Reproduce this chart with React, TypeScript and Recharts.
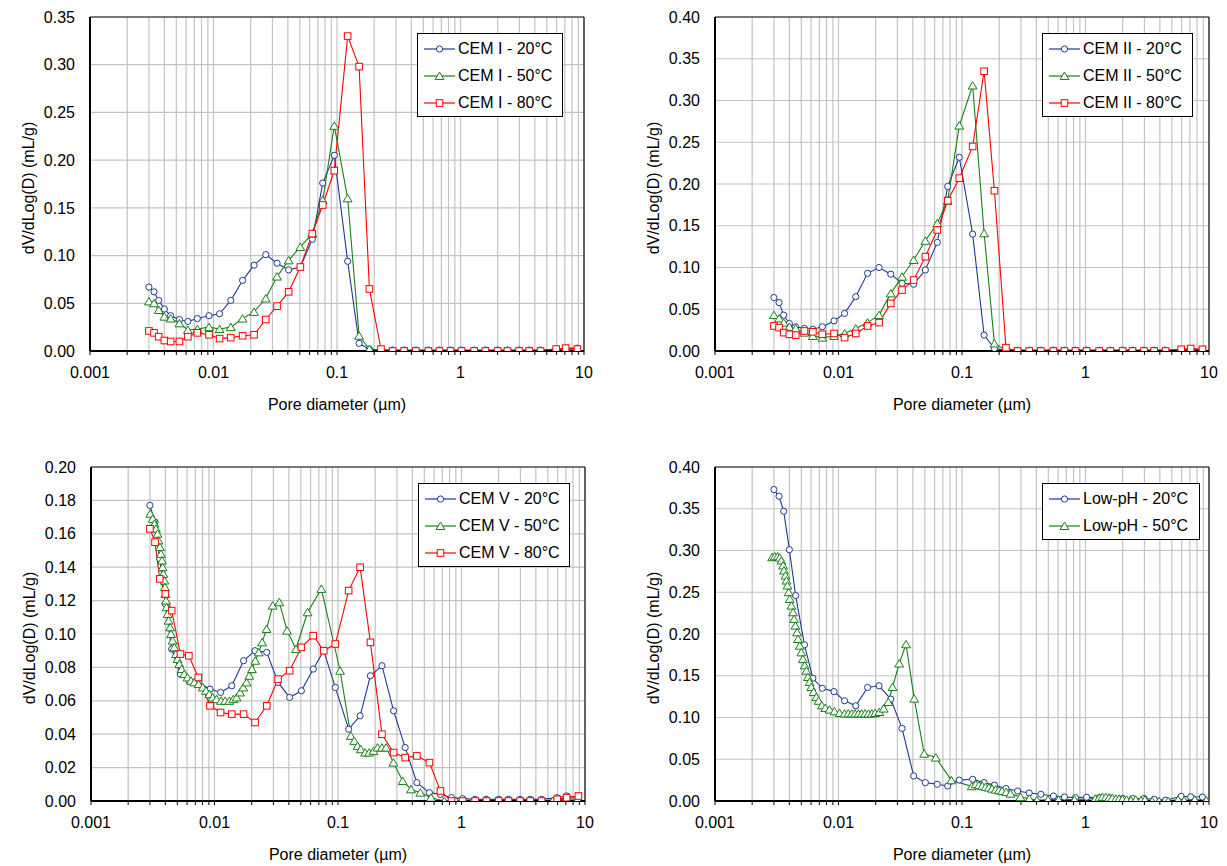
import React from 'react';
import { LineChart, Line, XAxis, YAxis, CartesianGrid, ReferenceLine } from 'recharts';

const FONT = '"Liberation Sans", Arial, Helvetica, sans-serif';
const BLUE = '#1F3A8F';
const GREEN = '#178017';
const RED = '#FF0000';

// ---------- axes ----------
const X_TICKS = [
  0.001, 0.002, 0.003, 0.004, 0.005, 0.006, 0.007, 0.008, 0.009,
  0.01, 0.02, 0.03, 0.04, 0.05, 0.06, 0.07, 0.08, 0.09,
  0.1, 0.2, 0.3, 0.4, 0.5, 0.6, 0.7, 0.8, 0.9,
  1, 2, 3, 4, 5, 6, 7, 8, 9, 10,
];
const X_MAJOR = [0.001, 0.01, 0.1, 1, 10];
const X_MAJOR_LABELS = ['0.001', '0.01', '0.1', '1', '10'];
const Y_TICKS_035 = [0, 0.05, 0.1, 0.15, 0.2, 0.25, 0.3, 0.35];
const Y_TICKS_040 = [0, 0.05, 0.1, 0.15, 0.2, 0.25, 0.3, 0.35, 0.4];
const Y_TICKS_020 = [0, 0.02, 0.04, 0.06, 0.08, 0.1, 0.12, 0.14, 0.16, 0.18, 0.2];

const X_TITLE = 'Pore diameter (µm)';
const Y_TITLE = 'dV/dLog(D) (mL/g)';

// ---------- common pore diameters (µm) ----------
const D_COMMON = [
  0.0030, 0.0033, 0.0036, 0.0040, 0.0045, 0.0053, 0.0062, 0.0074, 0.0092, 0.0112,
  0.0138, 0.0172, 0.0213, 0.0265, 0.0327, 0.0406, 0.0505, 0.0631, 0.0766, 0.0951,
  0.122, 0.151, 0.183, 0.227, 0.282, 0.350, 0.435, 0.550, 0.675, 0.830,
  1.02, 1.29, 1.59, 2.00, 2.40, 2.98, 3.60, 4.45, 5.95, 7.10, 8.85,
];

// ---------- CEM I ----------
const CEM1_20 = [
  0.067, 0.062, 0.053, 0.044, 0.037, 0.033, 0.031, 0.034, 0.037, 0.039,
  0.053, 0.074, 0.090, 0.101, 0.092, 0.085, 0.088, 0.117, 0.176, 0.205,
  0.094, 0.008, 0.002, 0.001, 0.001, 0.001, 0.001, 0.001, 0.001, 0.001,
  0.001, 0.001, 0.001, 0.001, 0.001, 0.001, 0.001, 0.001, 0.002, 0.003, 0.003,
];
const CEM1_50 = [
  0.052, 0.050, 0.043, 0.036, 0.034, 0.029, 0.022, 0.023, 0.025, 0.023,
  0.025, 0.034, 0.041, 0.055, 0.078, 0.095, 0.109, 0.123, 0.158, 0.236,
  0.160, 0.016, 0.002, 0.000, 0.000, 0.000, 0.000, 0.000, 0.000, 0.000,
  0.000, 0.000, 0.000, 0.000, 0.000, 0.000, 0.000, 0.000, 0.001, 0.002, 0.002,
];
const CEM1_80 = [
  0.021, 0.019, 0.015, 0.011, 0.010, 0.010, 0.015, 0.019, 0.017, 0.013,
  0.014, 0.016, 0.017, 0.033, 0.047, 0.062, 0.088, 0.123, 0.153, 0.189,
  0.330, 0.298, 0.065, 0.002, 0.000, 0.000, 0.000, 0.000, 0.000, 0.000,
  0.000, 0.000, 0.000, 0.000, 0.000, 0.000, 0.000, 0.000, 0.002, 0.003, 0.002,
];

// ---------- CEM II ----------
const CEM2_20 = [
  0.064, 0.058, 0.043, 0.033, 0.029, 0.027, 0.026, 0.029, 0.036, 0.045,
  0.065, 0.093, 0.100, 0.092, 0.081, 0.080, 0.097, 0.130, 0.197, 0.232,
  0.140, 0.019, 0.003, 0.001, 0.001, 0.001, 0.001, 0.001, 0.001, 0.001,
  0.001, 0.001, 0.001, 0.001, 0.001, 0.001, 0.001, 0.001, 0.002, 0.002, 0.002,
];
const CEM2_50 = [
  0.043, 0.039, 0.034, 0.029, 0.027, 0.022, 0.018, 0.016, 0.018, 0.021,
  0.027, 0.034, 0.043, 0.069, 0.089, 0.109, 0.132, 0.153, 0.180, 0.270,
  0.318, 0.141, 0.009, 0.001, 0.000, 0.000, 0.000, 0.000, 0.000, 0.000,
  0.000, 0.000, 0.000, 0.000, 0.000, 0.000, 0.000, 0.000, 0.001, 0.002, 0.001,
];
const CEM2_80 = [
  0.030, 0.028, 0.022, 0.020, 0.019, 0.024, 0.023, 0.020, 0.021, 0.016,
  0.021, 0.030, 0.034, 0.057, 0.073, 0.085, 0.113, 0.145, 0.180, 0.207,
  0.245, 0.335, 0.192, 0.004, 0.000, 0.000, 0.000, 0.000, 0.000, 0.000,
  0.000, 0.000, 0.000, 0.000, 0.000, 0.000, 0.000, 0.000, 0.002, 0.003, 0.002,
];

// ---------- CEM V ----------
const CEM5_20 = [
  0.177, 0.167, 0.145, 0.118, 0.091, 0.076, 0.072, 0.071, 0.067, 0.065,
  0.069, 0.084, 0.090, 0.089, 0.071, 0.062, 0.066, 0.079, 0.090, 0.068,
  0.043, 0.051, 0.075, 0.081, 0.054, 0.032, 0.011, 0.005, 0.004, 0.002,
  0.0014, 0.001, 0.001, 0.001, 0.001, 0.001, 0.001, 0.001, 0.002, 0.003, 0.002,
];
const CEM5_80 = [
  0.163, 0.155, 0.133, 0.124, 0.114, 0.088, 0.087, 0.074, 0.057, 0.053,
  0.052, 0.052, 0.047, 0.057, 0.073, 0.078, 0.092, 0.099, 0.090, 0.094,
  0.126, 0.140, 0.095, 0.040, 0.029, 0.026, 0.027, 0.023, 0.006, 0.000,
  0.000, 0.000, 0.000, 0.000, 0.000, 0.000, 0.000, 0.000, 0.001, 0.002, 0.003,
];
const CEM5_50_D = [
  0.00302, 0.00316, 0.00326, 0.00336, 0.00346, 0.00352, 0.00362, 0.00369, 0.00376, 0.00380,
  0.00385, 0.00393, 0.00397, 0.00400, 0.00405, 0.00409, 0.00417, 0.00425, 0.00437, 0.00445,
  0.00458, 0.00473, 0.00488, 0.00502, 0.00519, 0.00542, 0.00569, 0.00605, 0.00646, 0.00686,
  0.00743, 0.00802, 0.00853, 0.00908, 0.00966, 0.0104, 0.0113, 0.0122, 0.0132, 0.0142,
  0.0151, 0.0161, 0.0171, 0.0182, 0.0191, 0.0201, 0.0214, 0.0228, 0.0243, 0.0264,
  0.0296, 0.0335, 0.0387, 0.0457, 0.0567, 0.0733, 0.104, 0.127, 0.1355, 0.144,
  0.153, 0.166, 0.179, 0.194, 0.209, 0.227, 0.245, 0.281, 0.334, 0.390,
  0.464, 0.566, 0.726, 0.90, 1.05, 1.23, 1.58, 1.96, 2.44, 3.03,
  3.65, 4.54, 5.47, 7.02, 8.71,
];
const CEM5_50 = [
  0.172, 0.169, 0.166, 0.163, 0.160, 0.156, 0.152, 0.148, 0.144, 0.140,
  0.136, 0.132, 0.128, 0.124, 0.120, 0.116, 0.112, 0.108, 0.104, 0.100,
  0.096, 0.092, 0.088, 0.085, 0.082, 0.079, 0.076, 0.074, 0.072, 0.071,
  0.070, 0.068, 0.066, 0.064, 0.062, 0.061, 0.060, 0.060, 0.060, 0.061,
  0.062, 0.065, 0.068, 0.071, 0.075, 0.079, 0.084, 0.089, 0.095, 0.103,
  0.117, 0.119, 0.102, 0.091, 0.113, 0.127, 0.078, 0.039, 0.036, 0.033,
  0.031, 0.029, 0.029, 0.030, 0.032, 0.032, 0.032, 0.023, 0.012, 0.007,
  0.005, 0.002, 0.000, 0.000, 0.000, 0.000, 0.000, 0.000, 0.000, 0.000,
  0.000, 0.000, 0.000, 0.0014, 0.001,
];

// ---------- Low-pH ----------
const LOWPH_20 = [
  0.373, 0.365, 0.347, 0.301, 0.246, 0.187, 0.147, 0.135, 0.131, 0.120,
  0.114, 0.136, 0.138, 0.122, 0.087, 0.030, 0.022, 0.020, 0.018, 0.025,
  0.026, 0.022, 0.019, 0.015, 0.012, 0.0096, 0.008, 0.006, 0.0048, 0.004,
  0.0045, 0.004, 0.0035, 0.003, 0.003, 0.003, 0.002, 0.001, 0.0056, 0.005, 0.0048,
];
const LOWPH_50_D = [
  0.00290, 0.00305, 0.00321, 0.00334, 0.00345, 0.00356, 0.00362, 0.00372, 0.00379, 0.00386,
  0.00395, 0.00403, 0.00416, 0.00429, 0.00437, 0.00448, 0.00462, 0.00470, 0.00485, 0.00500,
  0.00515, 0.00532, 0.00549, 0.00565, 0.00583, 0.00602, 0.00629, 0.00661, 0.00690, 0.00733,
  0.00781, 0.00846, 0.00928, 0.0102, 0.0112, 0.0120, 0.0128, 0.0136, 0.0145, 0.0154,
  0.0164, 0.0175, 0.0186, 0.0198, 0.0214, 0.0232, 0.0253, 0.0274, 0.0310, 0.0352,
  0.0410, 0.0494, 0.0614, 0.0820, 0.120, 0.129, 0.137, 0.146, 0.155, 0.165,
  0.175, 0.187, 0.199, 0.211, 0.228, 0.247, 0.297, 0.351, 0.405, 0.497,
  0.605, 0.815, 1.20, 1.29, 1.37, 1.46, 1.55, 1.65, 1.76, 1.87,
  1.99, 2.15, 2.33, 2.55, 2.81, 3.03, 3.47, 3.93, 4.67, 5.62,
  6.29, 7.67, 9.5,
];
const LOWPH_50 = [
  0.292, 0.293, 0.293, 0.2915, 0.288, 0.282, 0.276, 0.270, 0.264, 0.258,
  0.250, 0.242, 0.234, 0.226, 0.218, 0.210, 0.202, 0.194, 0.186, 0.178,
  0.170, 0.1625, 0.156, 0.1485, 0.1425, 0.1365, 0.1305, 0.1245, 0.120, 0.1146,
  0.1114, 0.1095, 0.1074, 0.1054, 0.1047, 0.1047, 0.1047, 0.1047, 0.1047, 0.1047,
  0.1047, 0.1047, 0.1047, 0.1054, 0.1066, 0.1107, 0.1186, 0.1365, 0.1646, 0.1877,
  0.1226, 0.0567, 0.052, 0.0248, 0.0176, 0.020, 0.0188, 0.018, 0.0168, 0.016,
  0.0148, 0.0136, 0.0128, 0.012, 0.0108, 0.0088, 0.0048, 0.0028, 0.0008, 0.0016,
  0.0016, 0.0016, 0.0028, 0.004, 0.0048, 0.0048, 0.004, 0.0036, 0.0028, 0.0028,
  0.002, 0.0016, 0.0008, 0.0016, 0.0008, 0.0016, 0.0, 0.0, 0.0, 0.0016,
  0.0008, 0.0016, 0.0008,
];

// ---------- helpers ----------
type Shape = 'circle' | 'triangle' | 'square';
type Pt = { x: number; y: number };
type Series = { name: string; color: string; shape: Shape; data: Pt[] };

const zip = (xs: number[], ys: number[]): Pt[] => xs.map((x, i) => ({ x, y: ys[i] }));

function Marker({ shape, color, cx, cy }: { shape: Shape; color: string; cx: number; cy: number }) {
  if (shape === 'circle') {
    return <circle cx={cx} cy={cy} r={3.1} fill="#fff" stroke={color} strokeWidth={1} />;
  }
  if (shape === 'triangle') {
    const pts = `${cx},${cy - 3.9} ${cx - 4.4},${cy + 3.5} ${cx + 4.4},${cy + 3.5}`;
    return <polygon points={pts} fill="#fff" stroke={color} strokeWidth={1} />;
  }
  return <rect x={cx - 3.3} y={cy - 3.3} width={6.6} height={6.6} fill="#fff" stroke={color} strokeWidth={1} />;
}

const makeDot = (shape: Shape, color: string) => (props: any) => {
  const { cx, cy, index } = props;
  if (cx == null || cy == null || isNaN(cx) || isNaN(cy)) return <g key={`e${index}`} />;
  return (
    <g key={`d${index}`}>
      <Marker shape={shape} color={color} cx={cx} cy={cy} />
    </g>
  );
};

const fmtX = (v: number) => {
  const i = X_MAJOR.indexOf(v);
  return i >= 0 ? X_MAJOR_LABELS[i] : '';
};

const tickStyle = { fontSize: 16, fill: '#000', fontFamily: FONT };

function Panel({ left, top, yMax, yTicks, series }: { left: number; top: number; yMax: number; yTicks: number[]; series: Series[] }) {
  return (
    <div style={{ position: 'absolute', left, top }}>
      <LineChart width={600} height={415} margin={{ top: 17, right: 16, bottom: 0, left: 0 }}>
        <CartesianGrid stroke="#c3c3c3" strokeWidth={1.2} />
        <XAxis
          dataKey="x"
          type="number"
          scale="log"
          domain={[0.001, 10]}
          ticks={X_TICKS}
          interval={0}
          allowDataOverflow
          tickFormatter={fmtX}
          tickSize={4}
          tickMargin={12}
          tickLine={{ stroke: '#000' }}
          axisLine={{ stroke: '#000', strokeWidth: 2 }}
          height={64}
          tick={tickStyle}
          label={{ value: X_TITLE, position: 'insideBottom', offset: 5, style: { fontSize: 16, fill: '#000', fontFamily: FONT } }}
        />
        <YAxis
          type="number"
          domain={[0, yMax]}
          ticks={yTicks}
          interval={0}
          allowDataOverflow
          tickFormatter={(v: number) => v.toFixed(2)}
          width={90}
          tickSize={0}
          tickMargin={15}
          tickLine={false}
          axisLine={{ stroke: '#000', strokeWidth: 2 }}
          tick={tickStyle}
          label={{ value: Y_TITLE, angle: -90, position: 'insideLeft', offset: 28, dy: 4, style: { textAnchor: 'middle', fontSize: 16, fill: '#000', fontFamily: FONT } }}
        />
        <ReferenceLine y={yMax} stroke="#111" strokeWidth={1.2} />
        <ReferenceLine x={10} stroke="#111" strokeWidth={1.2} />
        {series.map((s) => (
          <Line
            key={s.name}
            name={s.name}
            data={s.data}
            dataKey="y"
            type="linear"
            stroke={s.color}
            strokeWidth={1.1}
            dot={makeDot(s.shape, s.color)}
            activeDot={false}
            isAnimationActive={false}
            legendType="none"
          />
        ))}
      </LineChart>
    </div>
  );
}

function LegendBox({ left, top, width, series }: { left: number; top: number; width: number; series: Series[] }) {
  return (
    <div
      style={{
        position: 'absolute',
        left,
        top,
        width,
        boxSizing: 'border-box',
        border: '1.3px solid #000',
        background: '#fff',
        paddingTop: 1,
        paddingBottom: 0,
      }}
    >
      {series.map((s) => (
        <div key={s.name} style={{ height: 27, display: 'flex', alignItems: 'center' }}>
          <svg width={31} height={12} style={{ marginLeft: 6, marginRight: 3, flex: 'none', display: 'block' }}>
            <line x1={0} y1={6} x2={31} y2={6} stroke={s.color} strokeWidth={1.2} />
            <Marker shape={s.shape} color={s.color} cx={15.5} cy={6} />
          </svg>
          <span style={{ fontSize: 16, fontFamily: FONT, color: '#000', whiteSpace: 'nowrap', lineHeight: '16px' }}>{s.name}</span>
        </div>
      ))}
    </div>
  );
}

const P1: Series[] = [
  { name: 'CEM I - 20°C', color: BLUE, shape: 'circle', data: zip(D_COMMON, CEM1_20) },
  { name: 'CEM I - 50°C', color: GREEN, shape: 'triangle', data: zip(D_COMMON, CEM1_50) },
  { name: 'CEM I - 80°C', color: RED, shape: 'square', data: zip(D_COMMON, CEM1_80) },
];
const P2: Series[] = [
  { name: 'CEM II - 20°C', color: BLUE, shape: 'circle', data: zip(D_COMMON, CEM2_20) },
  { name: 'CEM II - 50°C', color: GREEN, shape: 'triangle', data: zip(D_COMMON, CEM2_50) },
  { name: 'CEM II - 80°C', color: RED, shape: 'square', data: zip(D_COMMON, CEM2_80) },
];
const P3: Series[] = [
  { name: 'CEM V - 20°C', color: BLUE, shape: 'circle', data: zip(D_COMMON, CEM5_20) },
  { name: 'CEM V - 50°C', color: GREEN, shape: 'triangle', data: zip(CEM5_50_D, CEM5_50) },
  { name: 'CEM V - 80°C', color: RED, shape: 'square', data: zip(D_COMMON, CEM5_80) },
];
const P4: Series[] = [
  { name: 'Low-pH - 20°C', color: BLUE, shape: 'circle', data: zip(D_COMMON, LOWPH_20) },
  { name: 'Low-pH - 50°C', color: GREEN, shape: 'triangle', data: zip(LOWPH_50_D, LOWPH_50) },
];

export default function App() {
  return (
    <div style={{ position: 'absolute', left: 0, top: 0, width: 1227, height: 866, background: '#fff', fontFamily: FONT, overflow: 'hidden' }}>
      <Panel left={0} top={0} yMax={0.35} yTicks={Y_TICKS_035} series={P1} />
      <Panel left={625} top={0} yMax={0.4} yTicks={Y_TICKS_040} series={P2} />
      <Panel left={1} top={450} yMax={0.2} yTicks={Y_TICKS_020} series={P3} />
      <Panel left={625} top={450} yMax={0.4} yTicks={Y_TICKS_040} series={P4} />
      <LegendBox left={417} top={33} width={146} series={P1} />
      <LegendBox left={1042} top={33} width={151} series={P2} />
      <LegendBox left={418} top={483} width={152} series={P3} />
      <LegendBox left={1042} top={483} width={158} series={P4} />
    </div>
  );
}
